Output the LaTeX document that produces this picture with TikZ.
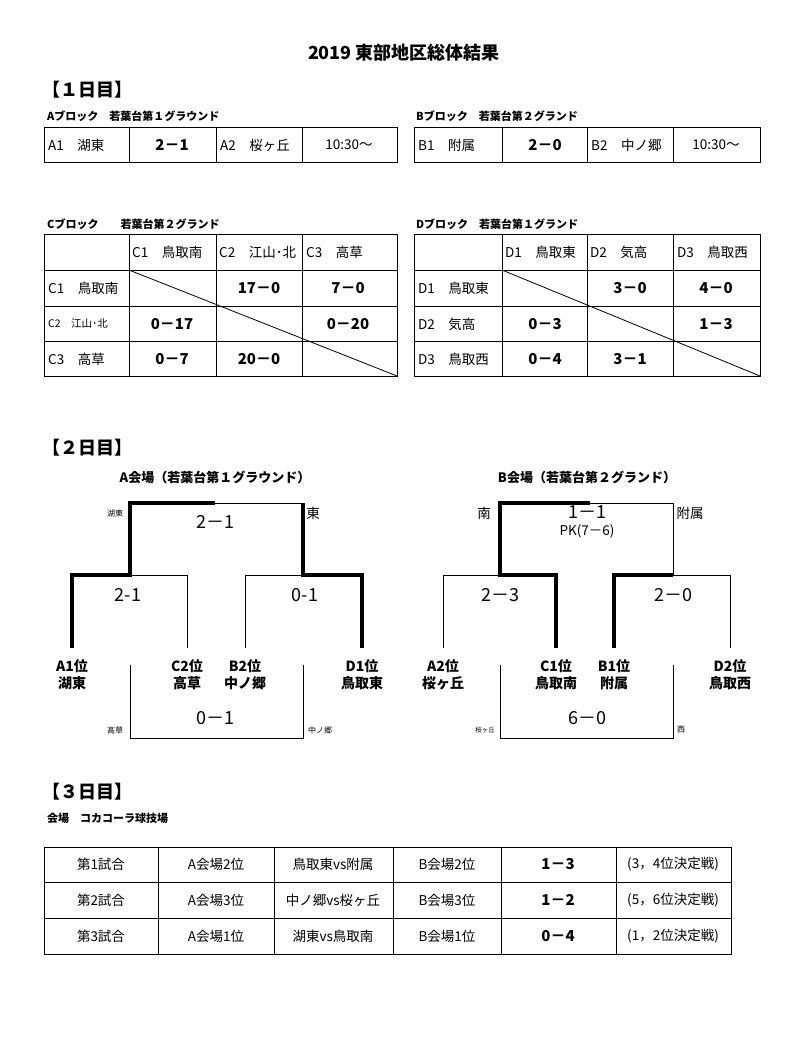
\documentclass[tikz,border=0pt]{standalone}
\usepackage{fontspec}
\setmainfont{Noto Sans CJK JP}
\begin{document}
\begin{tikzpicture}[x=1pt,y=-1pt,
  every node/.style={inner sep=0pt,font=\fontsize{13.5}{15}\selectfont},
  hd/.style={anchor=west,font=\fontsize{11}{13}\selectfont\bfseries},
  big/.style={anchor=west,font=\fontsize{18}{20}\selectfont\bfseries},
  lt/.style={anchor=west},
  sc/.style={font=\fontsize{15}{17}\selectfont\bfseries},
  bsc/.style={font=\fontsize{18}{20}\selectfont},
  tm/.style={font=\fontsize{14}{17}\selectfont\bfseries,align=center},
  sm/.style={font=\fontsize{8}{9}\selectfont},
  thin/.style={line width=0.8pt},
  thick/.style={line width=4.5pt}]
\useasboundingbox (0,0) rectangle (809,1046);
\node[font=\fontsize{18}{20}\selectfont\bfseries] (title) at (404,53) {2019 東部地区総体結果};
\node[big] (d1) at (42,90) {【１日目】};
% A block
\node[hd] (ah) at (47,116) {Aブロック　若葉台第１グラウンド};
\draw[thin] (44,127) rectangle (397,162);
\foreach \x in {129,216,302} \draw[thin] (\x,127)--(\x,162);
\node[lt] at (48,145) {A1　湖東};
\node[sc] at (172,145) {2－1};
\node[lt] at (220,145) {A2　桜ヶ丘};
\node at (349,145) {10:30〜};
% B block
\node[hd] (bh) at (416,116) {Bブロック　若葉台第２グランド};
\draw[thin] (414,127) rectangle (760,162);
\foreach \x in {502,587,673} \draw[thin] (\x,127)--(\x,162);
\node[lt] at (418,145) {B1　附属};
\node[sc] at (545,145) {2－0};
\node[lt] at (591,145) {B2　中ノ郷};
\node at (716,145) {10:30〜};
% C block
\node[hd] (ch) at (47,224) {Cブロック　　若葉台第２グランド};
\draw[thin] (44,234) rectangle (397,376);
\foreach \x in {129,216,302} \draw[thin] (\x,234)--(\x,376);
\foreach \y in {270,306,341} \draw[thin] (44,\y)--(397,\y);
\draw[thin] (129,270)--(397,376);
\node[lt] at (132,252) {C1　鳥取南};
\node[lt] at (219,252) {C2　江山･北};
\node[lt] at (306,252) {C3　高草};
\node[lt] at (48,288) {C1　鳥取南};
\node[lt,font=\fontsize{10.5}{12}\selectfont] at (48,324) {C2　江山･北};
\node[lt] at (48,359) {C3　高草};
\node[sc] at (259,288) {17－0};
\node[sc] at (348,288) {7－0};
\node[sc] at (172,324) {0－17};
\node[sc] at (348,324) {0－20};
\node[sc] at (172,359) {0－7};
\node[sc] at (259,359) {20－0};
% D block
\node[hd] (dh) at (416,224) {Dブロック　若葉台第１グランド};
\draw[thin] (414,234) rectangle (760,376);
\foreach \x in {502,587,673} \draw[thin] (\x,234)--(\x,376);
\foreach \y in {270,306,341} \draw[thin] (414,\y)--(760,\y);
\draw[thin] (502,270)--(760,376);
\node[lt] at (505,252) {D1　鳥取東};
\node[lt] at (590,252) {D2　気高};
\node[lt] at (677,252) {D3　鳥取西};
\node[lt] at (418,288) {D1　鳥取東};
\node[lt] at (418,324) {D2　気高};
\node[lt] at (418,359) {D3　鳥取西};
\node[sc] at (630,288) {3－0};
\node[sc] at (716,288) {4－0};
\node[sc] at (545,324) {0－3};
\node[sc] at (716,324) {1－3};
\node[sc] at (545,359) {0－4};
\node[sc] at (630,359) {3－1};
% Day 2
\node[big] (d2) at (42,448) {【２日目】};
\node[font=\fontsize{13}{15}\selectfont\bfseries] at (215,477) {A会場（若葉台第１グラウンド）};
\node[font=\fontsize{13}{15}\selectfont\bfseries] at (587,477) {B会場（若葉台第２グランド）};
% A bracket
\draw[thin] (130,503)--(303,503);
\draw[thin] (72,575)--(187,575)--(187,648);
\draw[thin] (245,648)--(245,575)--(362,575);
\draw[thick] (215,503)--(130,503)--(130,575)--(72,575)--(72,648);
\draw[thick] (303,503)--(303,575)--(362,575)--(362,648);
\draw[thin] (130,665)--(130,738)--(303,738)--(303,665);
\node[sm] at (115,513) {湖東};
\node at (313,513) {東};
\node[bsc] at (215,522) {2－1};
\node[bsc] at (128,595) {2-1};
\node[bsc] at (305,595) {0-1};
\node[bsc] at (215,718) {0－1};
\node[sm] at (115,730) {高草};
\node[sm] at (320,730) {中ノ郷};
\node[tm] at (72,675) {A1位\\湖東};
\node[tm] at (187,675) {C2位\\高草};
\node[tm] at (245,675) {B2位\\中ノ郷};
\node[tm] at (362,675) {D1位\\鳥取東};
% B bracket
\draw[thin] (500,503)--(673,503)--(673,575);
\draw[thin] (443,648)--(443,575)--(556,575);
\draw[thin] (614,575)--(730,575)--(730,648);
\draw[thick] (590,503)--(500,503)--(500,575)--(556,575)--(556,648);
\draw[thick] (673,575)--(614,575)--(614,648);
\draw[thin] (500,665)--(500,738)--(673,738)--(673,665);
\node at (484,513) {南};
\node at (690,513) {附属};
\node[bsc] at (587,512) {1－1};
\node at (587,531) {PK(7－6)};
\node[bsc] at (500,595) {2－3};
\node[bsc] at (673,595) {2－0};
\node[bsc] at (587,718) {6－0};
\node[sm,font=\fontsize{6.5}{8}\selectfont] at (485,730) {桜ヶ丘};
\node[sm] at (681,730) {西};
\node[tm] at (443,675) {A2位\\桜ヶ丘};
\node[tm] at (556,675) {C1位\\鳥取南};
\node[tm] at (614,675) {B1位\\附属};
\node[tm] at (730,675) {D2位\\鳥取西};
% Day 3
\node[big] (d3) at (42,792) {【３日目】};
\node[hd] (vh) at (47,818) {会場　コカコーラ球技場};
\draw[thin] (44,847) rectangle (731,954);
\foreach \y in {882,918} \draw[thin] (44,\y)--(731,\y);
\foreach \x in {158,274,393,501,616} \draw[thin] (\x,847)--(\x,954);
\foreach \r/\y in {1/864,2/900,3/936} \node at (101,\y) {第\r 試合};
\node at (216,864) {A会場2位};
\node at (216,900) {A会場3位};
\node at (216,936) {A会場1位};
\node at (333,864) {鳥取東vs附属};
\node at (333,900) {中ノ郷vs桜ヶ丘};
\node at (333,936) {湖東vs鳥取南};
\node at (447,864) {B会場2位};
\node at (447,900) {B会場3位};
\node at (447,936) {B会場1位};
\node[sc] at (558,864) {1－3};
\node[sc] at (558,900) {1－2};
\node[sc] at (558,936) {0－4};
\node at (673,864) {(3，4位決定戦)};
\node at (673,900) {(5，6位決定戦)};
\node at (673,936) {(1，2位決定戦)};
\end{tikzpicture}
\end{document}
